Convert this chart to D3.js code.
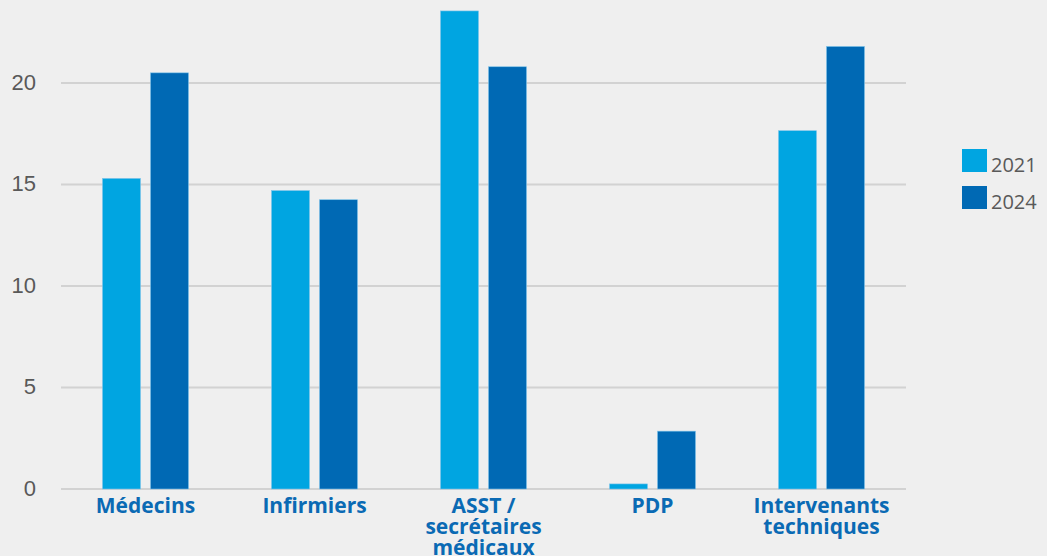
<!DOCTYPE html>
<html><head><meta charset="utf-8">
<script src="https://cdn.jsdelivr.net/npm/d3@7"></script>
<style>html,body{margin:0;padding:0;background:#efefef;}svg{display:block;}</style>
</head><body>
<svg id="c" width="1047" height="556"></svg>
<script>
const categories = [["Médecins"],["Infirmiers"],["ASST /","secrétaires","médicaux"],["PDP"],["Intervenants","techniques"]];
const seriesNames = ["2021","2024"];
const values2021 = [15.3, 14.7, 23.55, 0.25, 17.65];
const values2024 = [20.5, 14.25, 20.8, 2.85, 21.8];
const yTicks = [0,5,10,15,20];
const colors = ["#00a5e1","#0069b4"];

const svg = d3.select("#c");
const left = 61, right = 906;
const x = d3.scaleBand().domain(d3.range(categories.length)).range([left,right]).paddingInner(0).paddingOuter(0);
const y = d3.scaleLinear().domain([0,20]).range([489,83]);

svg.append("g").selectAll("line").data(yTicks).join("line")
  .attr("x1",left).attr("x2",right).attr("y1",d=>y(d)).attr("y2",d=>y(d))
  .attr("stroke","#d2d2d2").attr("stroke-width",2);

const yAxis = d3.axisLeft(y).tickValues(yTicks).tickSize(0).tickPadding(0);
const ga = svg.append("g").attr("transform","translate(36,0)").call(yAxis);
ga.select(".domain").remove();
ga.selectAll("text").attr("dy",6).attr("font-family","Liberation Sans, Arial, sans-serif").attr("font-size",22).attr("fill","#595959");

const bw = 38, gap = 10;
const series = [values2021, values2024];
series.forEach((vals, si) => {
  svg.append("g").selectAll("rect").data(vals).join("rect")
    .attr("x",(d,i)=>x(i)+x.bandwidth()/2 - (bw+gap/2) + si*(bw+gap))
    .attr("width",bw)
    .attr("y",d=>y(d)).attr("height",d=>y(0)-y(d))
    .attr("fill",colors[si]).attr("stroke","#7fc4ea").attr("stroke-width",0.6);
});

const lab = svg.append("g").selectAll("text").data(categories).join("text")
  .attr("x",(d,i)=>x(i)+x.bandwidth()/2).attr("y",513)
  .attr("text-anchor","middle").attr("font-family","Open Sans, sans-serif")
  .attr("font-weight","bold").attr("font-size",21).attr("fill","#0a6ab4");
lab.selectAll("tspan").data(d=>d).join("tspan")
  .attr("x",function(){return this.parentNode.getAttribute("x");})
  .attr("dy",(d,i)=>i===0?0:21).text(d=>d);

const lg = svg.append("g");
seriesNames.forEach((n,i)=>{
  lg.append("rect").attr("x",962).attr("y",149+i*37).attr("width",25).attr("height",23).attr("fill",colors[i]);
  lg.append("text").attr("x",991).attr("y",172+i*37).attr("font-family","Open Sans, sans-serif")
    .attr("font-size",20).attr("fill","#595959").text(n);
});
</script>
</body></html>
